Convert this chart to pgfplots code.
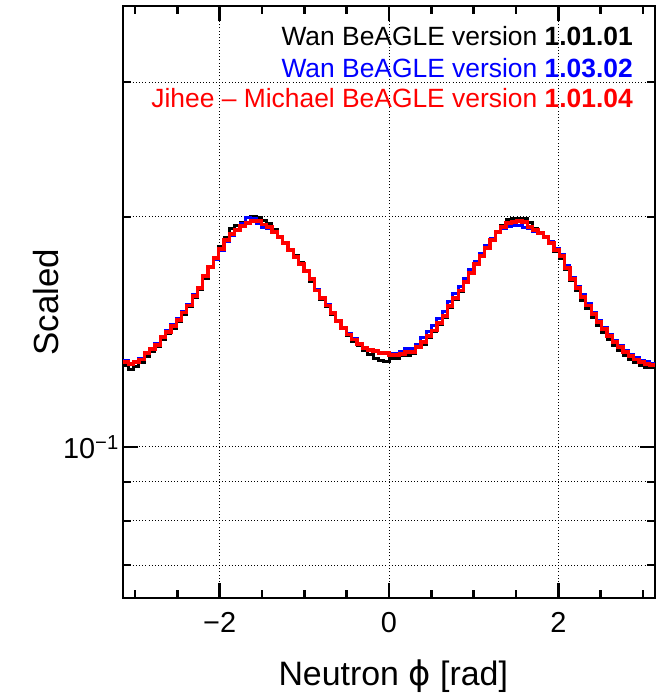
\documentclass[border=0pt]{standalone}
\usepackage{fontspec}
\setmainfont{Liberation Sans}
\newfontfamily\dejavu{DejaVu Sans}
\usepackage{pgfplots}
\usepackage{pgfplotstable}
\pgfplotsset{compat=1.18}

\pgfplotstableread{
i red black blue
0 0.1291 0.1279 0.1298
1 0.1283 0.1262 0.1287
2 0.1291 0.1272 0.1290
3 0.1302 0.1290 0.1305
4 0.1326 0.1312 0.1330
5 0.1342 0.1334 0.1345
6 0.1359 0.1352 0.1365
7 0.1392 0.1380 0.1395
8 0.1413 0.1405 0.1418
9 0.1439 0.1430 0.1445
10 0.1465 0.1460 0.1470
11 0.1500 0.1490 0.1505
12 0.1532 0.1528 0.1536
13 0.1575 0.1566 0.1580
14 0.1613 0.1604 0.1616
15 0.1673 0.1660 0.1670
16 0.1719 0.1715 0.1715
17 0.1766 0.1770 0.1760
18 0.1815 0.1830 0.1805
19 0.1865 0.1880 0.1855
20 0.1899 0.1933 0.1892
21 0.1922 0.1951 0.1925
22 0.1945 0.1968 0.1960
23 0.1962 0.1995 0.1995
24 0.1974 0.2001 0.1990
25 0.1974 0.1995 0.1960
26 0.1956 0.1980 0.1939
27 0.1939 0.1960 0.1933
28 0.1910 0.1925 0.1905
29 0.1882 0.1882 0.1878
30 0.1848 0.1852 0.1845
31 0.1809 0.1812 0.1810
32 0.1771 0.1778 0.1772
33 0.1734 0.1740 0.1738
34 0.1698 0.1695 0.1700
35 0.1658 0.1645 0.1662
36 0.1603 0.1600 0.1608
37 0.1565 0.1560 0.1568
38 0.1532 0.1525 0.1535
39 0.1496 0.1488 0.1500
40 0.1461 0.1458 0.1465
41 0.1430 0.1428 0.1434
42 0.1404 0.1398 0.1406
43 0.1383 0.1375 0.1386
44 0.1363 0.1355 0.1366
45 0.1346 0.1338 0.1350
46 0.1338 0.1320 0.1340
47 0.1334 0.1306 0.1336
48 0.1326 0.1295 0.1328
49 0.1326 0.1291 0.1328
50 0.1318 0.1306 0.1326
51 0.1318 0.1306 0.1326
52 0.1322 0.1316 0.1334
53 0.1330 0.1318 0.1346
54 0.1330 0.1326 0.1346
55 0.1351 0.1348 0.1362
56 0.1371 0.1360 0.1390
57 0.1396 0.1388 0.1415
58 0.1421 0.1416 0.1440
59 0.1452 0.1446 0.1472
60 0.1483 0.1478 0.1505
61 0.1528 0.1522 0.1550
62 0.1565 0.1560 0.1585
63 0.1603 0.1598 0.1622
64 0.1643 0.1640 0.1662
65 0.1688 0.1684 0.1705
66 0.1734 0.1730 0.1750
67 0.1777 0.1775 0.1790
68 0.1820 0.1822 0.1835
69 0.1865 0.1868 0.1875
70 0.1910 0.1915 0.1912
71 0.1939 0.1951 0.1930
72 0.1962 0.1985 0.1942
73 0.1968 0.1992 0.1945
74 0.1974 0.1992 0.1945
75 0.1968 0.1990 0.1939
76 0.1939 0.1968 0.1930
77 0.1922 0.1933 0.1915
78 0.1904 0.1899 0.1900
79 0.1882 0.1878 0.1885
80 0.1848 0.1845 0.1855
81 0.1809 0.1800 0.1815
82 0.1777 0.1765 0.1785
83 0.1714 0.1705 0.1725
84 0.1658 0.1648 0.1665
85 0.1613 0.1600 0.1622
86 0.1570 0.1555 0.1580
87 0.1532 0.1518 0.1542
88 0.1492 0.1478 0.1500
89 0.1456 0.1442 0.1465
90 0.1426 0.1410 0.1432
91 0.1396 0.1382 0.1402
92 0.1371 0.1358 0.1378
93 0.1351 0.1336 0.1358
94 0.1330 0.1318 0.1338
95 0.1314 0.1300 0.1322
96 0.1302 0.1288 0.1308
97 0.1291 0.1278 0.1298
98 0.1283 0.1270 0.1292
99 0.1279 0.1270 0.1286
100 0.1279 0.1270 0.1286
}\histdata

\definecolor{rootblue}{RGB}{0,0,255}
\definecolor{rootred}{RGB}{255,0,0}

\begin{document}
\begin{tikzpicture}
\path[use as bounding box] (-123bp,-95bp) rectangle (535bp,598bp);
\begin{axis}[
  at={(0,0)}, anchor=south west,
  scale only axis, width=532bp, height=592bp,
  xmin=-3.14159, xmax=3.14159,
  ymode=log, ymin=0.0634, ymax=0.3774,
  xtick={-2,0,2}, xticklabels={−2,0,2},
  minor xtick={-3,-2.5,-1.5,-1,-0.5,0.5,1,1.5,2.5,3},
  ytick={0.1}, yticklabels={10\textsuperscript{−1}},
  minor ytick={0.07,0.08,0.09,0.2,0.3},
  tick align=inside, xtick pos=both, ytick pos=both,
  major tick length=15bp, minor tick length=8bp,
  every tick/.style={black, line width=2.4bp},
  xmajorgrids, ymajorgrids, yminorgrids,
  major grid style={black, line width=0.9bp, dash pattern=on 1bp off 2.2bp},
  minor grid style={black, line width=0.9bp, dash pattern=on 1bp off 2.2bp},
  axis line style={line width=2.8bp},
  tick label style={font=\fontsize{29}{32}\selectfont},
  xticklabel style={yshift=-11bp},
  yticklabel style={inner sep=4bp},
  xlabel={Neutron {\dejavu ϕ} [rad]},
  ylabel={Scaled},
  x label style={at={(axis description cs:0.508,-0.147)}, anchor=base, font=\fontsize{34}{37}\selectfont},
  y label style={at={(axis description cs:-0.1203,0.5)}, anchor=base, font=\fontsize{35}{38}\selectfont},
]
\addplot[const plot mark left, black, line width=3bp] table[x expr={\thisrow{i}*0.0628319-3.14159}, y=black] {\histdata};
\addplot[const plot mark left, rootblue, line width=3bp] table[x expr={\thisrow{i}*0.0628319-3.14159}, y=blue] {\histdata};
\addplot[const plot mark left, rootred, line width=3.3bp] table[x expr={\thisrow{i}*0.0628319-3.14159}, y=red] {\histdata};
\node[anchor=base east, inner sep=0, font=\fontsize{26.5}{30}\selectfont, black] at (axis description cs:0.9586,0.934) {Wan BeAGLE version \textbf{1.01.01}};
\node[anchor=base east, inner sep=0, font=\fontsize{26.5}{30}\selectfont, rootblue] at (axis description cs:0.9586,0.880) {Wan BeAGLE version \textbf{1.03.02}};
\node[anchor=base east, inner sep=0, font=\fontsize{26.5}{30}\selectfont, rootred] at (axis description cs:0.9586,0.828) {Jihee – Michael BeAGLE version \textbf{1.01.04}};
\end{axis}
\end{tikzpicture}
\end{document}
